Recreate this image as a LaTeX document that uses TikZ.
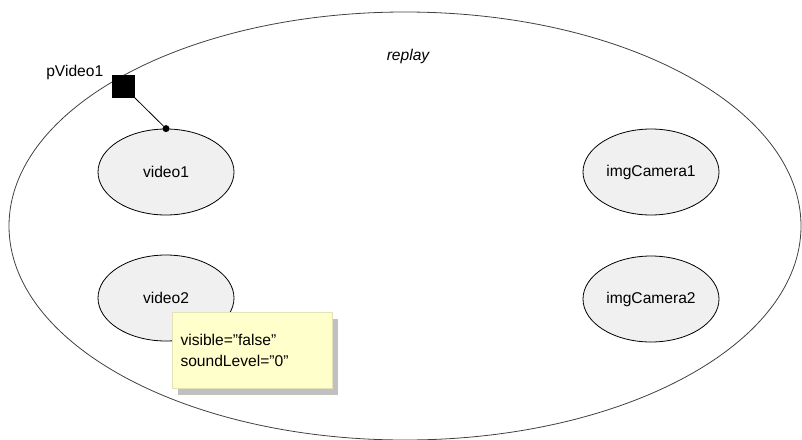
\documentclass[tikz,border=0pt]{standalone}
\usepackage{fontspec}
\setmainfont{Liberation Sans}
\usepackage{tikz}
\usetikzlibrary{shapes.geometric,positioning,calc,shadows}
\definecolor{RPFill}    {HTML}{F0F0F0}
\definecolor{RPLine}    {HTML}{404040}
\definecolor{RPNote}    {HTML}{FFFFCC}
\definecolor{RPNoteDk}  {HTML}{E2E2B4}
\definecolor{RPShadow}  {HTML}{C0C0C0}
\newcommand{\rpsize}{\fontsize{15.6}{21.5}\selectfont}

\begin{document}
\begin{tikzpicture}[x=1pt,y=-1pt,
    every node/.style={font=\rpsize},
    media/.style={ellipse,draw=black,fill=RPFill,line width=0.8pt,
                  minimum width=136pt,minimum height=86pt,inner sep=0pt},
    portbox/.style={draw=black,fill=black,minimum size=22pt,inner sep=0pt},
    note/.style={draw=RPNoteDk,fill=RPNote,align=left,inner sep=8pt,
                 minimum width=160pt,minimum height=76pt,text width=144pt,
                 drop shadow={shadow xshift=5pt,shadow yshift=-6pt,
                              fill=RPShadow,opacity=1}}
  ]
    \useasboundingbox (0,0) rectangle (802,439);
    \node[ellipse,draw=RPLine,line width=0.8pt,inner sep=0pt,
          minimum width=792pt,minimum height=428pt] (replay) at (405,226) {};
    \node[font=\rpsize\itshape] (title) at (408,56) {replay};
    \node[media] (video1) at (166,172) {video1};
    \node[media] (video2) at (166,298) {video2};
    \node[media] (cam1) at (651,172) {imgCamera1};
    \node[media] (cam2) at (651,299) {imgCamera2};
    \node[portbox] (pv1) at (123,86) {};
    \node[anchor=east] (pv1lbl) at ($(pv1.north west)+(-5,-2)$) {pVideo1};
    \node[circle,fill=black,inner sep=0pt,minimum size=7pt] (dot) at (video1.north) {};
    \draw[line width=0.8pt] (pv1.south east) -- (dot);
    \node[note] (attr) at (252.5,350.5)
      {visible=”false”\\soundLevel=”0”};
  \end{tikzpicture}
\end{document}
